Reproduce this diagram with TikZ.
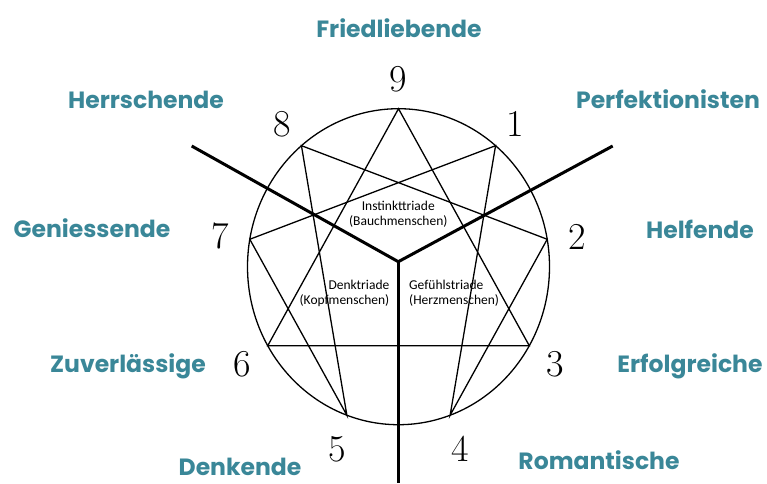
\documentclass[tikz,border=0pt]{standalone}
\usepackage{fontspec}
\newfontfamily\labfont{Poppins}
\newfontfamily\smallfont{Carlito}
\definecolor{teal1}{RGB}{58,135,152}
\begin{document}
\begin{tikzpicture}[x=1pt,y=-1pt,
  typelabel/.style={anchor=base,text=teal1,font=\labfont\bfseries\fontsize{23.5}{23.5}\selectfont,inner sep=0pt},
  numlabel/.style={font=\fontsize{38}{38}\selectfont,inner sep=0pt},
  triadtext/.style={font=\smallfont\fontsize{13.5}{15}\selectfont,inner sep=0pt,align=center},
  thinline/.style={line width=1.3pt,line join=miter},
  thickline/.style={line width=3pt}]
\useasboundingbox (0,0) rectangle (767,483);
\fill[white] (0,0) rectangle (767,483);
% vertices
\foreach \k in {0,...,8} {
  \coordinate (p\k) at ({398.5+151*sin(40*\k)},{266.7-158*cos(40*\k)});
}
\draw[thinline] (398.5,266.7) ellipse [x radius=151, y radius=158];
\draw[thinline] (p0) -- (p3) -- (p6) -- cycle;
\draw[thinline] (p1) -- (p4) -- (p2) -- (p8) -- (p5) -- (p7) -- cycle;
% triad separators
\coordinate (c) at (398.3,261.7);
\coordinate (eL) at (191.7,146);
\coordinate (eR) at (612.7,146);
\coordinate (eB) at (398.3,483);
\draw[thickline] (eL) -- (c) -- (eR);
\draw[thickline] (c) -- (eB);
% numbers
\node[numlabel] (n9) at (398.3,79) {9};
\node[numlabel] (n1) at (515,124) {1};
\node[numlabel] (n2) at (577,237) {2};
\node[numlabel] (n3) at (555,364) {3};
\node[numlabel] (n4) at (460,449) {4};
\node[numlabel] (n5) at (337,449) {5};
\node[numlabel] (n6) at (242,364) {6};
\node[numlabel] (n7) at (220,236) {7};
\node[numlabel] (n8) at (282,124) {8};
% triad texts
\node[triadtext] (ti) at (398.3,214.7) {Instinkttriade\\(Bauchmenschen)};
\node[triadtext,anchor=east,align=right] (td) at (389.5,293) {Denktriade\\(Kopfmenschen)};
\node[triadtext,anchor=west,align=left] (tg) at (409,293) {Gefühlstriade\\(Herzmenschen)};
% type labels
\node[typelabel] (l9) at (399,37) {Friedliebende};
\node[typelabel] (l8) at (146,108) {Herrschende};
\node[typelabel] (l1) at (668,108) {Perfektionisten};
\node[typelabel] (l7) at (92,237) {Geniessende};
\node[typelabel] (l2) at (700,238) {Helfende};
\node[typelabel] (l6) at (128,372) {Zuverlässige};
\node[typelabel] (l3) at (690,372) {Erfolgreiche};
\node[typelabel] (l5) at (240,475) {Denkende};
\node[typelabel] (l4) at (599,469) {Romantische};
\end{tikzpicture}
\end{document}
